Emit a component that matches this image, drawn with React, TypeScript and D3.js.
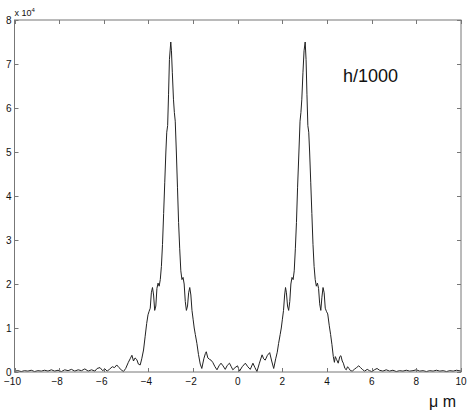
import React, { useEffect, useRef } from "react";
import * as d3 from "d3";

// x in micrometres, y in units of 1e4
const leftTail: [number, number][] = [
  [-10, 0.02], [-9.85, 0.03], [-9.7, 0.01], [-9.55, 0.03], [-9.4, 0.02], [-9.25, 0.04],
  [-9.1, 0.01], [-8.95, 0.03], [-8.8, 0.02], [-8.65, 0.04], [-8.5, 0.02], [-8.35, 0.05],
  [-8.2, 0.02], [-8.05, 0.04], [-7.9, 0.01], [-7.75, 0.05], [-7.6, 0.03], [-7.45, 0.06],
  [-7.3, 0.02], [-7.15, 0.05], [-7.0, 0.03], [-6.85, 0.07], [-6.7, 0.02], [-6.55, 0.05],
  [-6.4, 0.02], [-6.3, 0.08], [-6.17, 0.1], [-6.05, 0.03], [-5.95, 0.07], [-5.85, 0.02],
  [-5.75, 0.06], [-5.62, 0.12], [-5.52, 0.1], [-5.42, 0.16], [-5.32, 0.1], [-5.22, 0.05],
  [-5.12, 0.01], [-5.02, 0.08], [-4.9, 0.22], [-4.82, 0.3], [-4.74, 0.38], [-4.67, 0.25],
  [-4.6, 0.32], [-4.52, 0.28], [-4.45, 0.18], [-4.37, 0.16], [-4.3, 0.3], [-4.22, 0.5],
];

const leftPeak: [number, number][] = [
  [-4.15, 0.8], [-4.08, 1.1], [-4.02, 1.3], [-3.97, 1.38], [-3.92, 1.45], [-3.87, 1.8],
  [-3.82, 1.92], [-3.77, 1.75], [-3.72, 1.4], [-3.67, 1.5], [-3.62, 1.9], [-3.57, 2.02],
  [-3.52, 1.95], [-3.47, 2.1], [-3.42, 2.4], [-3.37, 2.9], [-3.32, 3.6], [-3.27, 4.3],
  [-3.22, 5.0], [-3.18, 5.45], [-3.14, 5.6], [-3.1, 6.3], [-3.06, 7.1], [-3.0, 7.5],
  [-2.97, 7.3], [-2.93, 6.8], [-2.88, 6.2], [-2.84, 5.9], [-2.8, 5.7], [-2.75, 5.0],
  [-2.7, 4.2], [-2.65, 3.4], [-2.6, 2.8], [-2.55, 2.3], [-2.5, 2.1], [-2.45, 2.15],
  [-2.4, 2.0], [-2.35, 1.6], [-2.3, 1.4], [-2.25, 1.5], [-2.2, 1.8], [-2.15, 1.92],
  [-2.1, 1.75], [-2.05, 1.4], [-2.0, 1.2], [-1.95, 1.0], [-1.9, 0.85], [-1.83, 0.65],
  [-1.76, 0.4], [-1.68, 0.18],
];

const center: [number, number][] = [
  [-1.61, 0.08], [-1.52, 0.3], [-1.45, 0.42], [-1.41, 0.46], [-1.34, 0.32], [-1.27, 0.29],
  [-1.2, 0.27], [-1.12, 0.22], [-1.02, 0.12], [-0.93, 0.05], [-0.84, 0.14], [-0.75, 0.2],
  [-0.66, 0.14], [-0.56, 0.06], [-0.47, 0.15], [-0.37, 0.2], [-0.29, 0.12], [-0.22, 0.05],
  [-0.12, 0.1], [-0.01, 0.14], [0.08, 0.02], [0.2, 0.12], [0.34, 0.2], [0.45, 0.12],
  [0.56, 0.06], [0.68, 0.2], [0.77, 0.1], [0.86, 0.01], [0.97, 0.2], [1.09, 0.39],
  [1.16, 0.3], [1.23, 0.27], [1.33, 0.38], [1.43, 0.44], [1.52, 0.25], [1.61, 0.08],
  [1.7, 0.3], [1.77, 0.45],
];

const rightPeak: [number, number][] = [
  [1.83, 0.65], [1.9, 0.85], [1.95, 1.0], [2.0, 1.2], [2.05, 1.4], [2.1, 1.75],
  [2.14, 1.92], [2.18, 1.8], [2.23, 1.5], [2.28, 1.4], [2.33, 1.6], [2.38, 2.0],
  [2.43, 2.15], [2.48, 2.1], [2.53, 2.3], [2.58, 2.8], [2.63, 3.4], [2.68, 4.2],
  [2.74, 5.0], [2.79, 5.7], [2.83, 5.9], [2.87, 6.2], [2.92, 6.8], [2.97, 7.3],
  [3.02, 7.5], [3.06, 7.1], [3.1, 6.3], [3.14, 5.6], [3.18, 5.45], [3.22, 5.0],
  [3.27, 4.3], [3.32, 3.6], [3.37, 2.9], [3.42, 2.4], [3.47, 2.1], [3.52, 1.95],
  [3.57, 2.02], [3.62, 1.9], [3.67, 1.55], [3.72, 1.4], [3.77, 1.7], [3.82, 1.92],
  [3.87, 1.8], [3.92, 1.45], [3.97, 1.38], [4.03, 1.32], [4.1, 1.05], [4.16, 0.85],
  [4.22, 0.62],
];

const rightTail: [number, number][] = [
  [4.28, 0.35], [4.33, 0.22], [4.37, 0.35], [4.43, 0.28], [4.5, 0.2], [4.57, 0.35],
  [4.62, 0.37], [4.68, 0.25], [4.73, 0.2], [4.8, 0.08], [4.86, 0.05], [4.92, 0.12],
  [4.98, 0.08], [5.05, 0.03], [5.13, 0.02], [5.22, 0.06], [5.32, 0.1], [5.42, 0.14],
  [5.5, 0.1], [5.58, 0.06], [5.68, 0.02], [5.8, 0.06], [5.9, 0.03], [6.0, 0.01],
  [6.12, 0.05], [6.24, 0.08], [6.35, 0.04], [6.5, 0.02], [6.65, 0.05], [6.8, 0.02],
  [6.95, 0.04], [7.1, 0.01], [7.25, 0.03], [7.4, 0.02], [7.55, 0.04], [7.7, 0.02],
  [7.85, 0.03], [8.0, 0.05], [8.15, 0.02], [8.3, 0.03], [8.45, 0.01], [8.6, 0.03],
  [8.75, 0.02], [8.9, 0.04], [9.05, 0.02], [9.2, 0.03], [9.35, 0.01], [9.5, 0.03],
  [9.65, 0.02], [9.8, 0.04], [10, 0.02],
];

const xTicks = [-10, -8, -6, -4, -2, 0, 2, 4, 6, 8, 10];
const yTicks = [0, 1, 2, 3, 4, 5, 6, 7, 8];

const W = 475;
const H = 410;
const FONT = "'Liberation Sans', Arial, sans-serif";

const App = () => {
  const svgRef = useRef<SVGSVGElement | null>(null);

  useEffect(() => {
    const svg = d3.select(svgRef.current);
    svg.selectAll("*").remove();

    const left = 14.5, right = 461, top = 20, bottom = 372;
    const x = d3.scaleLinear().domain([-10, 10]).range([left, right]);
    const y = d3.scaleLinear().domain([0, 8]).range([bottom, top]);

    const data = [...leftTail, ...leftPeak, ...center, ...rightPeak, ...rightTail];

    svg.append("rect").attr("width", W).attr("height", H).attr("fill", "#fff");

    // curve
    const line = d3.line<[number, number]>()
      .x(d => x(d[0]))
      .y(d => y(d[1]));
    svg.append("path")
      .datum(data)
      .attr("d", line)
      .attr("fill", "none")
      .attr("stroke", "#222")
      .attr("stroke-width", 1)
      .attr("stroke-linejoin", "round");

    // box
    svg.append("rect")
      .attr("x", left)
      .attr("y", top)
      .attr("width", right - left)
      .attr("height", bottom - top)
      .attr("fill", "none")
      .attr("stroke", "#777")
      .attr("stroke-width", 1);

    const tk = 4;
    const ticks = svg.append("g").attr("stroke", "#777").attr("stroke-width", 1);
    xTicks.forEach(t => {
      const px = Math.round(x(t)) + 0.5;
      ticks.append("line").attr("x1", px).attr("x2", px).attr("y1", bottom).attr("y2", bottom - tk);
      ticks.append("line").attr("x1", px).attr("x2", px).attr("y1", top).attr("y2", top + tk);
    });
    yTicks.forEach(t => {
      const py = Math.round(y(t)) + 0.5;
      ticks.append("line").attr("x1", left).attr("x2", left + tk).attr("y1", py).attr("y2", py);
      ticks.append("line").attr("x1", right).attr("x2", right - tk).attr("y1", py).attr("y2", py);
    });

    // tick labels
    svg.append("g")
      .selectAll("text")
      .data(xTicks)
      .enter()
      .append("text")
      .attr("x", d => x(d) - (d < 0 ? 2 : 0))
      .attr("y", bottom + 13)
      .attr("text-anchor", "middle")
      .attr("font-family", FONT)
      .attr("font-size", 10)
      .attr("fill", "#111")
      .text(d => (d < 0 ? "\u2212" + Math.abs(d) : String(d)));

    svg.append("g")
      .selectAll("text")
      .data(yTicks)
      .enter()
      .append("text")
      .attr("x", left - 3)
      .attr("y", d => y(d) + 3.5)
      .attr("text-anchor", "end")
      .attr("font-family", FONT)
      .attr("font-size", 10)
      .attr("fill", "#111")
      .text(d => String(d));

    // exponent
    const exp = svg.append("text")
      .attr("x", left)
      .attr("y", top - 4)
      .attr("font-family", FONT)
      .attr("font-size", 9)
      .attr("fill", "#111");
    exp.append("tspan").text("x 10");
    exp.append("tspan").attr("font-size", 6).attr("dy", -4).text("4");

    // annotation
    svg.append("text")
      .attr("x", 343)
      .attr("y", 82)
      .attr("font-family", FONT)
      .attr("font-size", 18)
      .attr("fill", "#111")
      .text("h/1000");

    // axis unit
    svg.append("text")
      .attr("x", 429)
      .attr("y", 407)
      .attr("font-family", FONT)
      .attr("font-size", 16)
      .attr("fill", "#111")
      .text("\u03bc m");
  }, []);

  return (
    <svg
      ref={svgRef}
      width={W}
      height={H}
      style={{ position: "absolute", left: 0, top: 0, display: "block" }}
    />
  );
};

export default App;
